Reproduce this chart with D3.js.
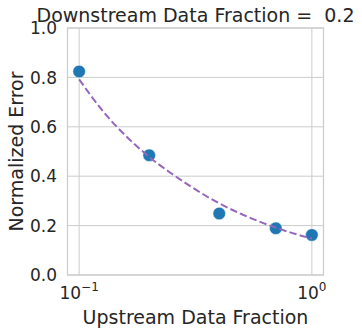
<!DOCTYPE html>
<html lang="en">
  <head>
    <meta charset="utf-8" />
    <title>Downstream Data Fraction</title>
    <script src="https://cdnjs.cloudflare.com/ajax/libs/d3/7.8.5/d3.min.js"></script>
    <style>
      body {
        margin: 0;
        background: #ffffff;
        font-family: "DejaVu Sans", sans-serif;
      }
      .grid line {
        stroke: #cccccc;
        stroke-width: 1;
      }
      .tick-label {
        fill: #262626;
        font-size: 17px;
      }
      .axis-label {
        fill: #262626;
        font-size: 19px;
      }
    </style>
  </head>
  <body>
    <div id="chart"></div>
    <script>
      // measured points
      const upstream = [0.1, 0.2, 0.4, 0.7, 1.0];
      const error = [0.824, 0.485, 0.249, 0.189, 0.162];

      // dashed fit curve
      const fitX = [0.1, 0.13, 0.16, 0.2, 0.25, 0.3, 0.4, 0.5, 0.6, 0.7, 0.85, 1.0];
      const fitY = [0.792, 0.65, 0.56, 0.478, 0.41, 0.36, 0.29, 0.246, 0.215, 0.192, 0.166, 0.148];

      const yTicks = [0, 0.2, 0.4, 0.6, 0.8, 1.0];
      const xTicks = [0.1, 1];
      const xTickExp = ["\u22121", "0"];

      const width = 362;
      const height = 334;
      const margin = { top: 28, right: 38.5, bottom: 59, left: 67.5 };
      const iw = width - margin.left - margin.right;
      const ih = height - margin.top - margin.bottom;

      const svg = d3
        .select("#chart")
        .append("svg")
        .attr("width", width)
        .attr("height", height);

      const g = svg
        .append("g")
        .attr("transform", `translate(${margin.left},${margin.top})`);

      // log x with matplotlib-style 5% margins
      const x = d3
        .scaleLog()
        .domain([Math.pow(10, -1.05), Math.pow(10, 0.05)])
        .range([0, iw]);
      const y = d3.scaleLinear().domain([0, 1]).range([ih, 0]);

      // grid
      const grid = g.append("g").attr("class", "grid");
      grid
        .selectAll(".gy")
        .data(yTicks)
        .enter()
        .append("line")
        .attr("x1", 0)
        .attr("x2", iw)
        .attr("y1", (d) => y(d))
        .attr("y2", (d) => y(d));
      grid
        .selectAll(".gx")
        .data(xTicks)
        .enter()
        .append("line")
        .attr("x1", (d) => x(d))
        .attr("x2", (d) => x(d))
        .attr("y1", 0)
        .attr("y2", ih);

      // frame
      g.append("rect")
        .attr("width", iw)
        .attr("height", ih)
        .attr("fill", "none")
        .attr("stroke", "#cccccc")
        .attr("stroke-width", 1.25);

      // points
      g.selectAll(".dot")
        .data(error)
        .enter()
        .append("circle")
        .attr("cx", (d, i) => x(upstream[i]))
        .attr("cy", (d) => y(d))
        .attr("r", 6.3)
        .attr("fill", "#1f77b4")
        .attr("stroke", "#ffffff")
        .attr("stroke-width", 0.5);

      // fit line, drawn over the dots
      const line = d3
        .line()
        .x((d, i) => x(fitX[i]))
        .y((d) => y(d))
        .curve(d3.curveMonotoneX);
      g.append("path")
        .datum(fitY)
        .attr("d", line)
        .attr("fill", "none")
        .attr("stroke", "#9467bd")
        .attr("stroke-width", 2)
        .attr("stroke-dasharray", "7.4,3.2");

      // y tick labels
      g.selectAll(".ytl")
        .data(yTicks)
        .enter()
        .append("text")
        .attr("class", "tick-label")
        .attr("x", -10.5)
        .attr("y", (d) => y(d))
        .attr("dy", "0.36em")
        .attr("text-anchor", "end")
        .text((d) => d.toFixed(1));

      // x tick labels with superscript
      const xtl = g
        .selectAll(".xtl")
        .data(xTicks)
        .enter()
        .append("text")
        .attr("class", "tick-label")
        .attr("x", (d) => x(d))
        .attr("y", ih + 24)
        .attr("text-anchor", "middle");
      xtl.append("tspan").text("10");
      xtl
        .append("tspan")
        .attr("dy", -8)
        .attr("font-size", "12px")
        .text((d, i) => xTickExp[i]);

      // axis labels
      g.append("text")
        .attr("class", "axis-label")
        .attr("x", iw / 2)
        .attr("y", ih + 49)
        .attr("text-anchor", "middle")
        .text("Upstream Data Fraction");

      g.append("text")
        .attr("class", "axis-label")
        .attr("transform", `translate(${-44.5},${ih / 2}) rotate(-90)`)
        .attr("text-anchor", "middle")
        .text("Normalized Error");

      // title (overlaps the 1.0 label slightly, as in the source)
      g.append("text")
        .attr("class", "axis-label")
        .attr("x", iw / 2)
        .attr("y", -6.5)
        .attr("text-anchor", "middle")
        .style("white-space", "pre")
        .text("Downstream Data Fraction =  0.2");
    </script>
  </body>
</html>
